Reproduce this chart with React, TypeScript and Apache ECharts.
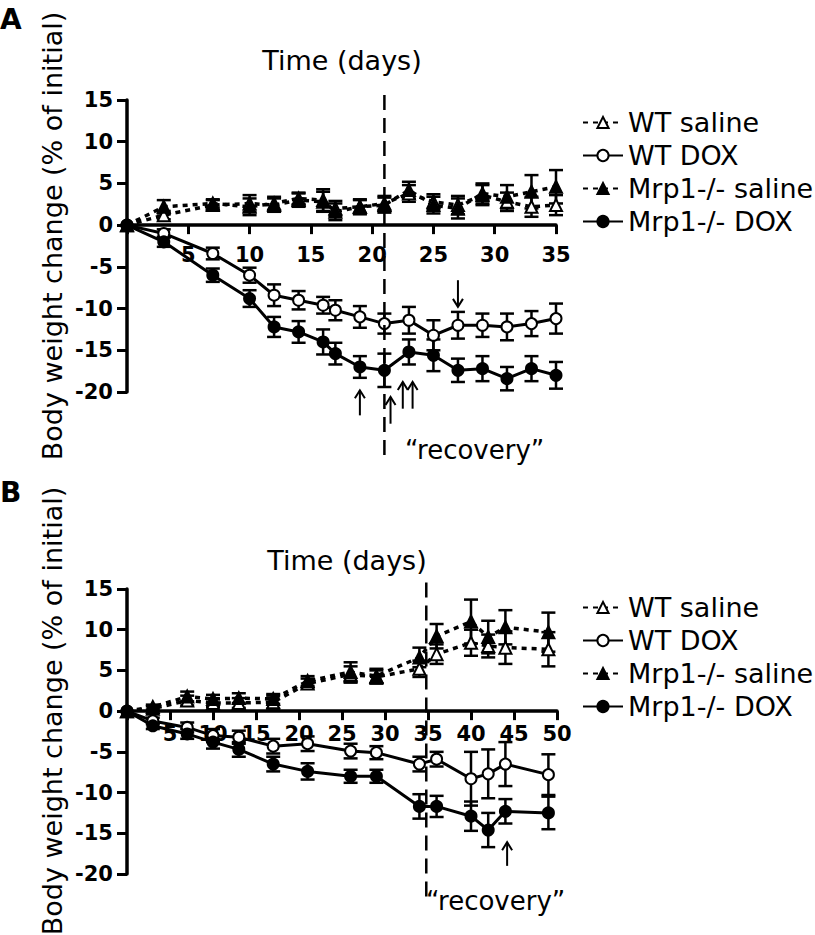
import React, { useEffect, useRef } from "react";
import * as echarts from "echarts";

// ---------- Panel A data ----------
const daysA = [0, 3, 7, 10, 12, 14, 16, 17, 19, 21, 23, 25, 27, 29, 31, 33, 35];
const wtSalineA = [0, 1.2, 2.4, 2.6, 2.4, 3.0, 2.8, 2.0, 2.2, 2.6, 3.8, 2.8, 2.4, 3.6, 2.8, 2.2, 2.4];
const wtSalineErrA = [0, 0.5, 0.6, 1.0, 0.8, 0.8, 1.2, 0.9, 0.9, 0.9, 1.0, 0.9, 1.1, 1.2, 1.1, 1.2, 1.2];
const mrpSalineA = [0, 2.2, 2.6, 2.2, 2.6, 3.2, 3.0, 1.6, 2.2, 2.4, 4.2, 2.4, 2.0, 3.8, 3.4, 4.0, 4.6];
const mrpSalineErrA = [0, 0.8, 0.5, 1.0, 0.8, 0.7, 1.3, 1.0, 0.8, 0.9, 1.0, 1.0, 1.2, 1.2, 1.4, 2.0, 2.0];
const wtDoxA = [0, -1.0, -3.4, -6.0, -8.4, -9.0, -9.6, -10.2, -11.0, -11.8, -11.4, -13.2, -12.0, -12.0, -12.2, -11.8, -11.2];
const wtDoxErrA = [0, 0.5, 0.7, 0.9, 1.3, 1.1, 1.0, 1.2, 1.3, 1.2, 1.6, 1.8, 1.6, 1.4, 1.6, 1.5, 1.8];
const mrpDoxA = [0, -2.0, -6.0, -8.8, -12.2, -12.8, -14.0, -15.4, -17.0, -17.4, -15.2, -15.6, -17.4, -17.2, -18.4, -17.2, -18.0];
const mrpDoxErrA = [0, 0.6, 0.8, 1.0, 1.2, 1.3, 1.5, 1.3, 1.3, 2.0, 1.5, 1.9, 1.4, 1.5, 1.4, 1.5, 1.6];

// ---------- Panel B data ----------
const daysB = [0, 3, 7, 10, 13, 17, 21, 26, 29, 34, 36, 40, 42, 44, 49];
const wtSalineB = [0, 0.3, 1.3, 1.0, 1.0, 1.1, 3.4, 4.5, 4.2, 5.2, 7.0, 8.4, 8.0, 7.8, 7.6];
const wtSalineErrB = [0, 0.3, 0.6, 0.5, 0.6, 0.8, 0.6, 1.0, 0.8, 1.0, 1.2, 1.6, 1.4, 2.0, 2.1];
const mrpSalineB = [0, 0.5, 1.8, 1.5, 1.6, 1.5, 3.7, 4.8, 4.3, 6.6, 9.2, 11.0, 9.1, 10.3, 9.7];
const mrpSalineErrB = [0, 0.3, 0.6, 0.5, 0.6, 0.6, 0.6, 1.2, 0.9, 1.2, 1.5, 2.7, 2.0, 2.1, 2.4];
const wtDoxB = [0, -1.2, -2.0, -3.0, -3.2, -4.3, -4.0, -4.9, -5.1, -6.5, -5.9, -8.3, -7.7, -6.5, -7.8];
const wtDoxErrB = [0, 0.4, 0.6, 0.8, 0.8, 0.9, 0.9, 0.9, 0.8, 0.9, 0.9, 3.3, 3.0, 2.7, 2.5];
const mrpDoxB = [0, -1.8, -2.8, -3.8, -4.7, -6.5, -7.4, -8.0, -8.0, -11.7, -11.7, -12.9, -14.6, -12.3, -12.5];
const mrpDoxErrB = [0, 0.4, 0.6, 0.8, 0.9, 0.9, 1.0, 0.8, 0.8, 1.5, 1.3, 1.8, 2.1, 1.5, 2.0];

// ---------- labels ----------
const seriesNames = ["WT saline", "WT DOX", "Mrp1-/- saline", "Mrp1-/- DOX"];
const panelLabels = ["A", "B"];
const xTitle = "Time (days)";
const yTitle = "Body weight change (% of initial)";
const recoveryLabel = "\u201Crecovery\u201D";
const yMin = -20;
const yMax = 15;

// ---------- annotations (data coordinates) ----------
const recoveryDayA = 21;
const recoveryDayB = 34.8;
// [day, tailValue, headValue]
const arrowsA = [
  [19, -22.8, -19.8],
  [21.5, -23.8, -20.6],
  [22.5, -22.0, -18.8],
  [23.3, -22.0, -18.8],
  [27, -6.6, -9.8],
];
const arrowsB = [[44.2, -19.0, -16.1]];

const FONT = '"DejaVu Sans", "Liberation Sans", Arial, sans-serif';

const GRID_A = { left: 127, top: 100, width: 429, height: 292 };
const GRID_B = { left: 127, top: 589, width: 430, height: 285 };

const zip = (xs: number[], ys: number[]) => xs.map((x, i) => [x, ys[i]]);

function lineSeries(name: string, days: number[], vals: number[], idx: number) {
  const saline = name.includes("saline");
  const filled = name.startsWith("Mrp1");
  return {
    type: "line",
    name,
    xAxisIndex: idx,
    yAxisIndex: idx,
    data: zip(days, vals),
    symbol: saline ? "triangle" : "circle",
    symbolSize: saline ? 12 : 11,
    showSymbol: true,
    itemStyle: {
      color: filled ? "#000" : "#fff",
      borderColor: "#000",
      borderWidth: 2,
    },
    lineStyle: saline
      ? { color: "#000", width: 3.5, type: [5, 5] }
      : { color: "#000", width: 3 },
    emphasis: { disabled: true },
    z: saline ? 3 : 4,
  };
}

function errSeries(id: string, days: number[], vals: number[], errs: number[], idx: number) {
  return {
    type: "custom",
    name: id,
    xAxisIndex: idx,
    yAxisIndex: idx,
    silent: true,
    z: 2,
    data: days.map((d, i) => [d, vals[i] - errs[i], vals[i] + errs[i], errs[i]]),
    renderItem: (params: any, api: any) => {
      if (api.value(3) === 0) return null;
      const x = api.value(0);
      const lo = api.coord([x, api.value(1)]);
      const hi = api.coord([x, api.value(2)]);
      const w = 7;
      const st = { stroke: "#000", lineWidth: 2.5 };
      return {
        type: "group",
        children: [
          { type: "line", shape: { x1: lo[0], y1: lo[1], x2: hi[0], y2: hi[1] }, style: st },
          { type: "line", shape: { x1: lo[0] - w, y1: lo[1], x2: lo[0] + w, y2: lo[1] }, style: st },
          { type: "line", shape: { x1: hi[0] - w, y1: hi[1], x2: hi[0] + w, y2: hi[1] }, style: st },
        ],
      };
    },
  };
}

function xAxisCfg(grid: number, max: number, margin: number, gridHeight: number) {
  // move the bottom axis (with its labels and ticks) up to the y = 0 line
  const zeroOffset = -(gridHeight * (0 - yMin)) / (yMax - yMin);
  return {
    gridIndex: grid,
    type: "value",
    position: "bottom",
    offset: zeroOffset,
    min: 0,
    max,
    interval: 5,
    axisLine: { show: true, onZero: false, lineStyle: { color: "#000", width: 3.5 } },
    axisTick: { show: true, length: 9, lineStyle: { color: "#000", width: 3 } },
    axisLabel: {
      margin,
      formatter: (v: number) => (v === 0 ? "" : String(v)),
      fontFamily: FONT,
      fontWeight: "bold",
      fontSize: 21,
      color: "#000",
    },
    splitLine: { show: false },
  };
}

function yAxisCfg(grid: number) {
  return {
    gridIndex: grid,
    type: "value",
    min: yMin,
    max: yMax,
    interval: 5,
    axisLine: { show: true, onZero: false, lineStyle: { color: "#000", width: 3.5 } },
    axisTick: { show: true, length: 10, lineStyle: { color: "#000", width: 3 } },
    axisLabel: {
      margin: 14,
      fontFamily: FONT,
      fontWeight: "bold",
      fontSize: 21,
      color: "#000",
    },
    splitLine: { show: false },
  };
}

function legendCfg(top: number) {
  return {
    orient: "vertical",
    left: 582,
    top,
    padding: 0,
    itemGap: 6,
    itemWidth: 40,
    itemHeight: 14,
    selectedMode: false,
    data: seriesNames,
    textStyle: { fontFamily: FONT, fontSize: 27, lineHeight: 26, color: "#000" },
  };
}

export default function App() {
  const ref = useRef<HTMLDivElement>(null);
  useEffect(() => {
    if (!ref.current) return;
    const chart = echarts.init(ref.current, undefined, { renderer: "svg" });
    const aVals = [wtSalineA, wtDoxA, mrpSalineA, mrpDoxA];
    const aErrs = [wtSalineErrA, wtDoxErrA, mrpSalineErrA, mrpDoxErrA];
    const bVals = [wtSalineB, wtDoxB, mrpSalineB, mrpDoxB];
    const bErrs = [wtSalineErrB, wtDoxErrB, mrpSalineErrB, mrpDoxErrB];
    const series: any[] = [];
    seriesNames.forEach((n, i) => {
      series.push(errSeries("errA" + i, daysA, aVals[i], aErrs[i], 0));
      series.push(errSeries("errB" + i, daysB, bVals[i], bErrs[i], 1));
    });
    seriesNames.forEach((n, i) => {
      series.push(lineSeries(n, daysA, aVals[i], 0));
      series.push(lineSeries(n, daysB, bVals[i], 1));
    });

    chart.setOption({
      animation: false,
      backgroundColor: "#fff",
      grid: [GRID_A, GRID_B],
      xAxis: [xAxisCfg(0, 35, 19, GRID_A.height), xAxisCfg(1, 50, 12, GRID_B.height)],
      yAxis: [yAxisCfg(0), yAxisCfg(1)],
      legend: [legendCfg(109), legendCfg(594)],
      series,
    });

    const px = (g: number, x: number, y: number) =>
      chart.convertToPixel({ gridIndex: g } as any, [x, y]) as number[];

    const graphics: any[] = [];
    const txt = (text: string, x: number, y: number, size: number, opts: any = {}) => ({
      type: "text",
      x,
      y,
      rotation: opts.rotation || 0,
      style: {
        text,
        fill: "#000",
        fontFamily: FONT,
        fontSize: size,
        fontWeight: opts.bold ? "bold" : "normal",
        align: opts.align || "center",
        verticalAlign: "middle",
        textAlign: opts.align || "center",
        textVerticalAlign: "middle",
      },
      z: 10,
    });

    graphics.push(txt(panelLabels[0], 0, 19.5, 28, { bold: true, align: "left" }));
    graphics.push(txt(panelLabels[1], 0, 492.5, 28, { bold: true, align: "left" }));
    graphics.push(txt(xTitle, 342, 60.5, 27));
    graphics.push(txt(xTitle, 347, 560.5, 27));
    graphics.push(txt(yTitle, 52, 236, 27, { rotation: Math.PI / 2 }));
    graphics.push(txt(yTitle, 52, 711, 27, { rotation: Math.PI / 2 }));
    graphics.push(txt(recoveryLabel, 405, 450, 26, { align: "left" }));
    graphics.push(txt(recoveryLabel, 426, 901, 26, { align: "left" }));

    // dashed "recovery" lines
    const dA0 = px(0, recoveryDayA, 15.6);
    const dA1 = px(0, recoveryDayA, -27.6);
    const dB0 = px(1, recoveryDayB, 15.8);
    const dB1 = px(1, recoveryDayB, -23.7);
    [[dA0, dA1], [dB0, dB1]].forEach(([p0, p1]) => {
      graphics.push({
        type: "line",
        shape: { x1: p0[0], y1: p0[1], x2: p1[0], y2: p1[1] },
        style: { stroke: "#000", lineWidth: 2.5, lineDash: [15, 8] },
        z: 5,
      });
    });

    const addArrow = (g: number, a: number[]) => {
      const t = px(g, a[0], a[1]);
      const h = px(g, a[0], a[2]);
      const dir = h[1] < t[1] ? 1 : -1; // 1 = pointing up
      graphics.push({
        type: "line",
        shape: { x1: t[0], y1: t[1], x2: h[0], y2: h[1] },
        style: { stroke: "#000", lineWidth: 2 },
        z: 6,
      });
      graphics.push({
        type: "polyline",
        shape: {
          points: [
            [h[0] - 5, h[1] + dir * 8],
            [h[0], h[1]],
            [h[0] + 5, h[1] + dir * 8],
          ],
        },
        style: { stroke: "#000", lineWidth: 2, fill: "none" },
        z: 6,
      });
    };
    arrowsA.forEach((a) => addArrow(0, a));
    arrowsB.forEach((a) => addArrow(1, a));

    chart.setOption({ graphic: graphics });

    return () => chart.dispose();
  }, []);

  return (
    <div
      ref={ref}
      style={{ position: "absolute", left: 0, top: 0, width: 815, height: 935, background: "#fff" }}
    />
  );
}
